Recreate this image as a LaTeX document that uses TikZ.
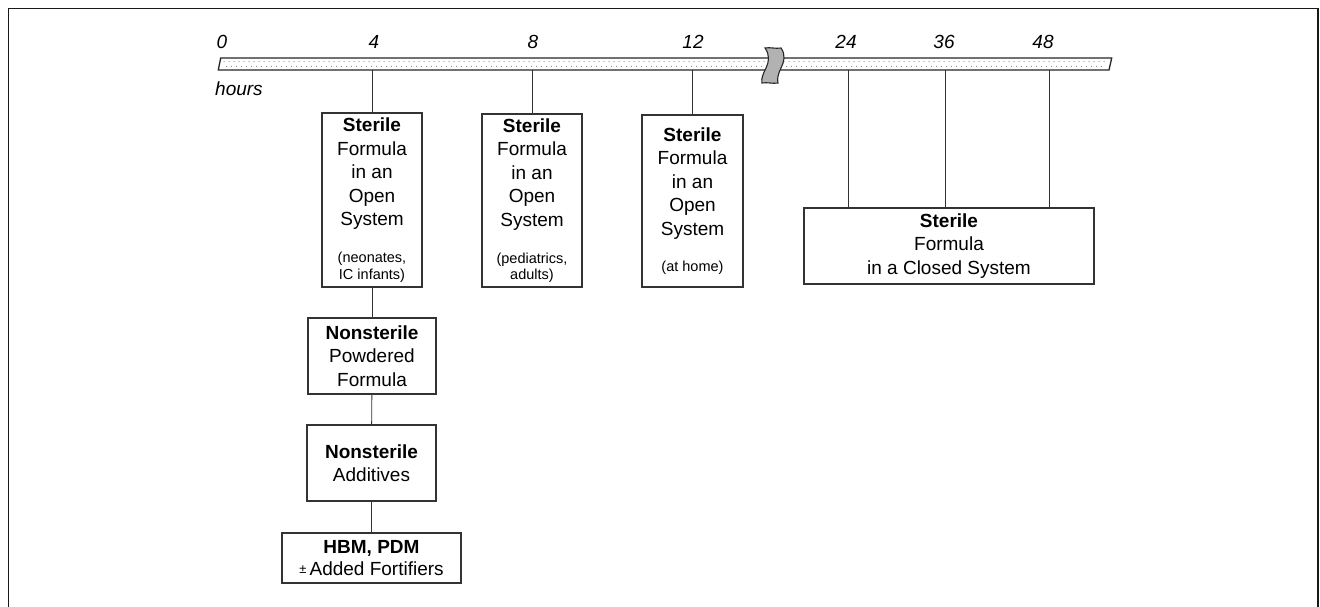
\documentclass[tikz,border=0pt]{standalone}
\usepackage{fontspec}
\setmainfont{Liberation Sans}
\begin{document}
\begin{tikzpicture}[x=1pt,y=-1pt,
  box/.style={draw=black!80,line width=1.1pt,inner sep=0pt,align=center,font=\fontsize{19}{23.5}\selectfont},
  conn/.style={draw=black!80,line width=0.9pt},
  tick/.style={font=\fontsize{19}{23}\selectfont\itshape,anchor=base,inner sep=0pt}]
\useasboundingbox (0,0) rectangle (1320,607);
% frame
\draw[line width=1.8pt,black!90] (8.5,610) -- (8.5,8.5) -- (1318,8.5) -- (1318,610);
% time bar
\draw[draw=black!85,fill=white,line width=1.3pt] (220.7,58) -- (1111.7,58) -- (1109,70) -- (218.3,70) -- cycle;
\foreach \x in {224,229,...,1106} \fill[black!50] (\x,61.6) circle[radius=0.6pt];
\foreach \x in {226.5,231.5,...,1104} \fill[black!50] (\x,66.4) circle[radius=0.6pt];
% break symbol
\draw[draw=black!85,fill=black!30,line width=1.1pt]
  (765,48) .. controls (770,55) and (769,62) .. (766,68)
  .. controls (763,74) and (761,79) .. (762,83)
  .. controls (767,82) and (773,84) .. (778,83)
  .. controls (777,79) and (778,74) .. (781,68)
  .. controls (784,62) and (786,55) .. (781,48)
  .. controls (776,49) and (770,47) .. (765,48) -- cycle;
% tick coordinates on the bar
\coordinate (t4) at (372,70);
\coordinate (t8) at (532,70);
\coordinate (t12) at (692.5,70);
\coordinate (t24) at (848,70);
\coordinate (t36) at (945,70);
\coordinate (t48) at (1049,70);
% tick labels
\node[tick] (l0) at (222,49) {0};
\node[tick] (l4) at (374,49) {4};
\node[tick] (l8) at (533,49) {8};
\node[tick] (l12) at (693,49) {12};
\node[tick] (l24) at (846,49) {24};
\node[tick] (l36) at (944,49) {36};
\node[tick] (l48) at (1043,49) {48};
\node[tick,anchor=base west] (hrs) at (215,96) {hours};
% boxes
\node[box,minimum width=100,minimum height=174] (b1) at (372,200)
  {\textbf{Sterile}\\Formula\\in an\\Open\\System\\[13.5pt]{\fontsize{14.5}{17}\selectfont (neonates,}\\[-7pt]{\fontsize{14.5}{17}\selectfont IC infants)}};
\node[box,minimum width=100,minimum height=173] (b2) at (532,200.5)
  {\textbf{Sterile}\\Formula\\in an\\Open\\System\\[13.5pt]{\fontsize{14.5}{17}\selectfont (pediatrics,}\\[-7pt]{\fontsize{14.5}{17}\selectfont adults)}};
\node[box,minimum width=101,minimum height=172] (b3) at (692.5,201)
  {\textbf{Sterile}\\Formula\\in an\\Open\\System\\[12.5pt]{\fontsize{14.5}{17}\selectfont (at home)}};
\node[box,minimum width=290,minimum height=76] (b4) at (949,246)
  {\textbf{Sterile}\\Formula\\in a Closed System};
\node[box,minimum width=128,minimum height=76] (bp) at (372,356)
  {\textbf{Nonsterile}\\Powdered\\Formula};
\node[box,minimum width=129,minimum height=76] (ba) at (371.5,463)
  {\textbf{Nonsterile}\\Additives};
\node[box,minimum width=179,minimum height=50] (bh) at (371.5,558)
  {\textbf{HBM, PDM}\\[-1.5pt]\raisebox{1.5pt}{\fontsize{13}{13}\selectfont ±}\,Added Fortifiers};
% connectors
\draw[conn] (t4) -- (b1);
\draw[conn] (t8) -- (b2);
\draw[conn] (t12) -- (b3);
\draw[conn] (t24) -- (t24 |- b4.north);
\draw[conn] (t36) -- (t36 |- b4.north);
\draw[conn] (t48) -- (t48 |- b4.north);
\draw[conn] (b1) -- (bp);
\draw[conn] (bp) -- (ba);
\draw[conn] (ba) -- (bh);
\end{tikzpicture}
\end{document}
